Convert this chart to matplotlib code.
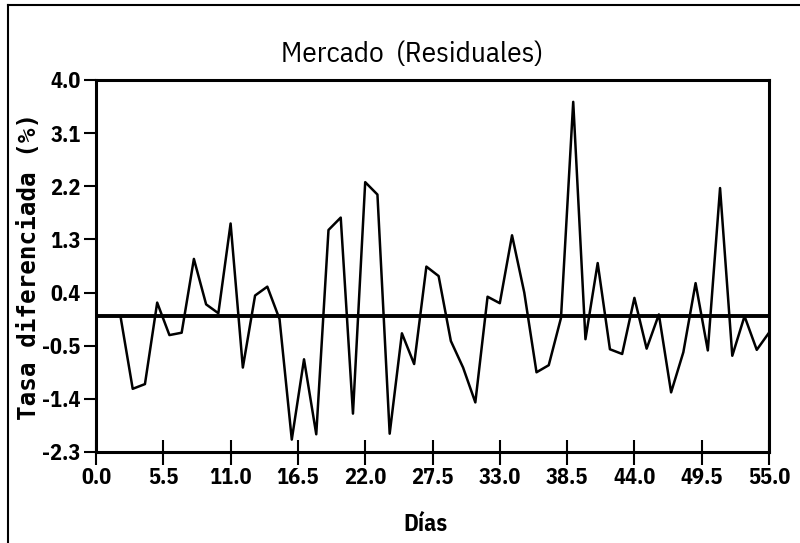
import matplotlib
matplotlib.use("Agg")
import matplotlib.pyplot as plt
import numpy as np

days = list(range(2, 56))
residuals = [0.0, -1.23, -1.15, 0.23, -0.32, -0.28, 0.97, 0.2, 0.05, 1.57,
             -0.87, 0.35, 0.5, -0.05, -2.09, -0.73, -2.0, 1.46, 1.67, -1.65,
             2.27, 2.06, -1.99, -0.29, -0.81, 0.84, 0.68, -0.42, -0.87, -1.46,
             0.33, 0.22, 1.37, 0.4, -0.95, -0.83, -0.03, 3.63, -0.39, 0.9,
             -0.56, -0.64, 0.31, -0.55, 0.03, -1.29, -0.61, 0.56, -0.58, 2.17,
             -0.67, 0.0, -0.57, -0.28]
xticks = [0.0, 5.5, 11.0, 16.5, 22.0, 27.5, 33.0, 38.5, 44.0, 49.5, 55.0]
yticks = [-2.3, -1.4, -0.5, 0.4, 1.3, 2.2, 3.1, 4.0]

narrow = ['IBM Plex Sans Condensed', 'Open Sans Condensed', 'DejaVu Sans']

fig = plt.figure(figsize=(8, 5.43), dpi=100)
ax = fig.add_axes([96/800, 1-452/543, (769-96)/800, (452-80)/543])

ax.plot(days, residuals, color='black', lw=1.8)
ax.axhline(0, color='black', lw=2.8)

ax.set_xlim(0, 55)
ax.set_ylim(-2.3, 4.0)
ax.set_xticks(xticks)
ax.set_xticklabels([f"{v:.1f}" for v in xticks], family=narrow, fontsize=16, fontweight='bold')
ax.set_yticks(yticks)
ax.set_yticklabels([f"{v:.1f}" for v in yticks], family=narrow, fontsize=16, fontweight='bold')
ax.tick_params(axis='x', direction='inout', length=18, width=1.5, pad=2)
ax.tick_params(axis='y', direction='out', length=9, width=1.5, pad=2)
for s in ax.spines.values():
    s.set_linewidth(2.2)

ax.set_title("Mercado  (Residuales)", family=narrow, fontsize=21, pad=13)
ax.title.set_x((412 - 96) / 673)
ax.set_xlabel("Días", family=narrow, fontsize=17, fontweight='bold')
ax.xaxis.set_label_coords((425 - 96) / 673, -0.165)
ax.set_ylabel("Tasa diferenciada (%)", family=['DejaVu Sans Mono'], fontsize=17.5,
              fontweight='bold')
ax.yaxis.set_label_coords(-0.082, 0.5)

# outer frame lines (left and top of the page)
fig.add_artist(plt.Line2D([8/800, 8/800], [0, 1-5/543], color='black', lw=1.5, transform=fig.transFigure))
fig.add_artist(plt.Line2D([8/800, 1], [1-5/543, 1-5/543], color='black', lw=1.5, transform=fig.transFigure))

fig.savefig("out.png", dpi=100)
